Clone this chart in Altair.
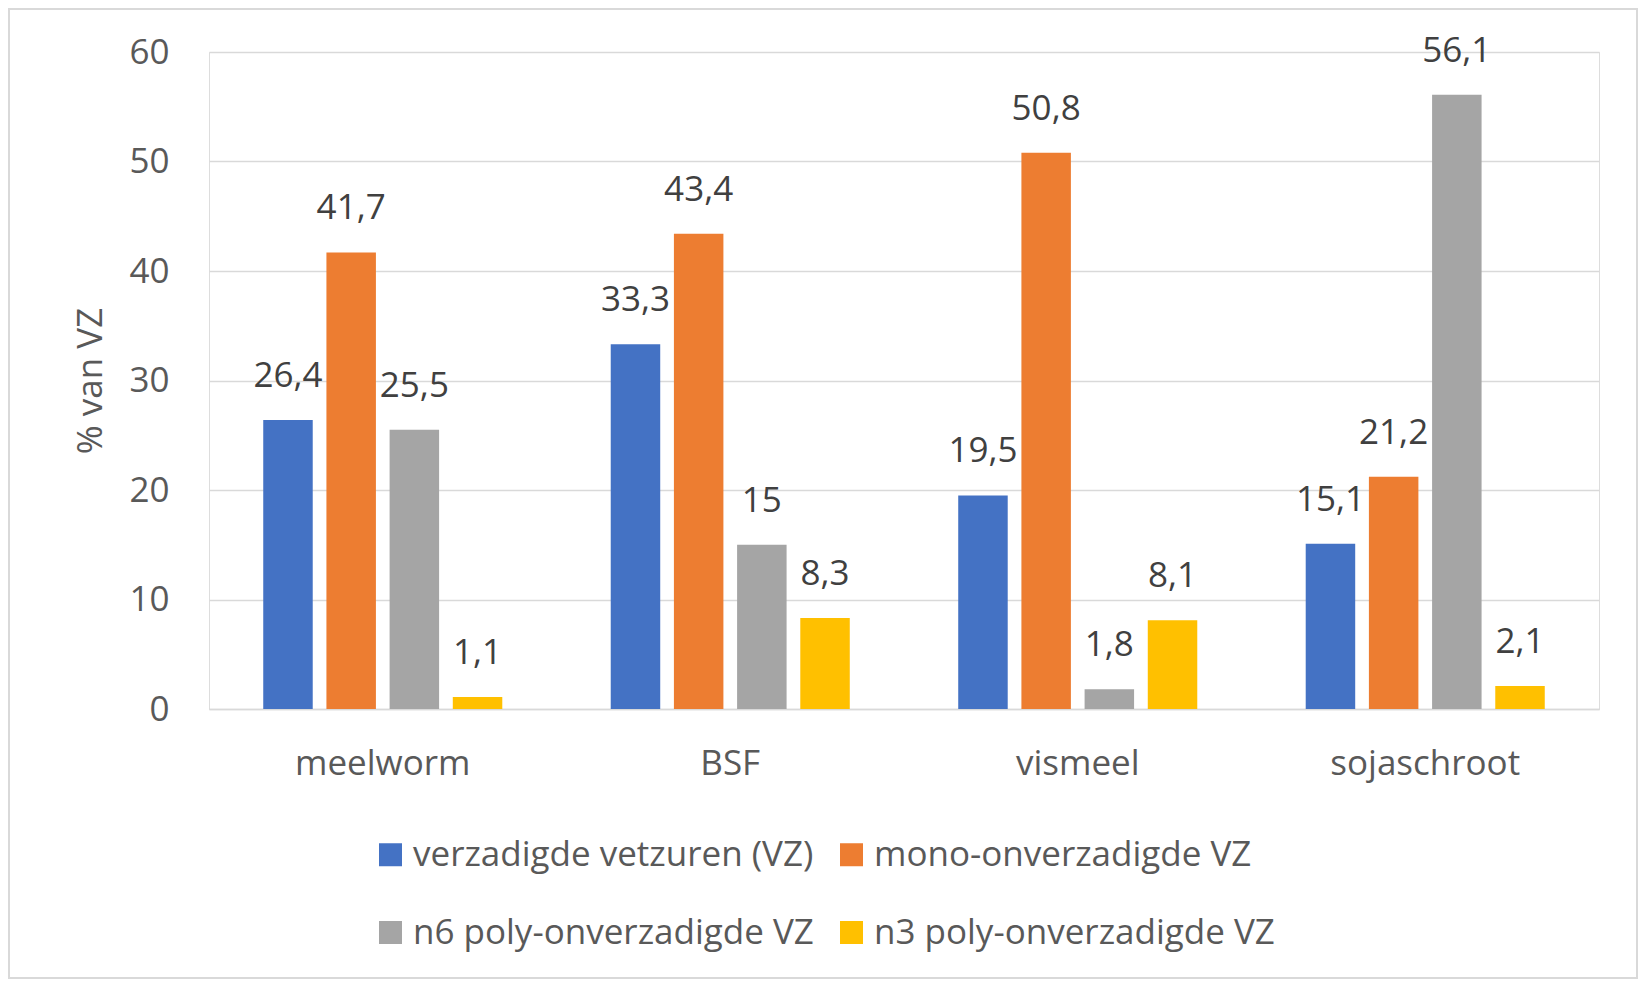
import altair as alt
import pandas as pd

categories = ["meelworm", "BSF", "vismeel", "sojaschroot"]
series = [
    "verzadigde vetzuren (VZ)",
    "mono-onverzadigde VZ",
    "n6 poly-onverzadigde VZ",
    "n3 poly-onverzadigde VZ",
]
colors = ["#4472C4", "#ED7D31", "#A5A5A5", "#FFC000"]

verzadigd = [26.4, 33.3, 19.5, 15.1]
mono = [41.7, 43.4, 50.8, 21.2]
n6 = [25.5, 15.0, 1.8, 56.1]
n3 = [1.1, 8.3, 8.1, 2.1]

y_ticks = [0, 10, 20, 30, 40, 50, 60]

rows = []
for s, vals in zip(series, [verzadigd, mono, n6, n3]):
    for c, v in zip(categories, vals):
        lab = ("%g" % v).replace(".", ",")
        rows.append({"cat": c, "series": s, "value": v, "label": lab})
df = pd.DataFrame(rows)

FONT = "Open Sans"
FS = 35
W, H = 1390, 657
PL, PT, PR, PB = 201, 44, 39, 270

x_enc = alt.X(
    "cat:N",
    sort=categories,
    title=None,
    scale=alt.Scale(paddingInner=0.2727, paddingOuter=0.1364),
    axis=alt.Axis(
        labelAngle=0,
        labelFont=FONT,
        labelFontSize=FS,
        labelColor="#595959",
        labelBaseline="alphabetic",
        labelPadding=65,
        labelLimit=1000,
        ticks=False,
        domainColor="#d9d9d9",
        domainWidth=1.5,
        grid=False,
    ),
)
xoff = alt.XOffset(
    "series:N",
    sort=series,
    scale=alt.Scale(paddingInner=0.2167, paddingOuter=0.1083),
)
y_enc = alt.Y(
    "value:Q",
    scale=alt.Scale(domain=[0, 60], nice=False),
    axis=alt.Axis(
        values=y_ticks,
        title="% van VZ",
        titleFont=FONT,
        titleFontSize=FS,
        titleFontWeight="normal",
        titleColor="#595959",
        titleX=-119,
        titleY=H / 2,
        titleAngle=270,
        titleAlign="center",
        titleBaseline="middle",
        labelFont=FONT,
        labelFontSize=FS,
        labelColor="#595959",
        labelPadding=40,
        ticks=False,
        domain=False,
        grid=True,
        gridColor="#d9d9d9",
        gridWidth=1.5,
    ),
)

bars = alt.Chart(df).mark_bar().encode(
    x=x_enc,
    xOffset=xoff,
    y=y_enc,
    color=alt.Color(
        "series:N",
        sort=series,
        scale=alt.Scale(domain=series, range=colors),
        legend=alt.Legend(
            title=None,
            orient="none",
            legendX=164,
            legendY=785,
            columns=2,
            direction="horizontal",
            symbolType="square",
            symbolSize=529,
            symbolStrokeWidth=0,
            labelFont=FONT,
            labelFontSize=FS,
            labelColor="#595959",
            labelOffset=5,
            labelLimit=1000,
            rowPadding=42,
            columnPadding=20,
            padding=0,
        ),
    ),
)

labels = alt.Chart(df).mark_text(
    baseline="alphabetic",
    dy=-33,
    font=FONT,
    fontSize=FS,
    color="#404040",
).encode(
    x=alt.X("cat:N", sort=categories),
    xOffset=alt.XOffset("series:N", sort=series),
    y=alt.Y("value:Q"),
    text="label:N",
)

frame = alt.Chart(pd.DataFrame({"f": [1]})).mark_rect(
    fillOpacity=0, stroke="#d9d9d9", strokeWidth=2
).encode(
    x=alt.value(-PL + 1),
    x2=alt.value(W + PR - 1),
    y=alt.value(-PT + 1),
    y2=alt.value(H + PB - 1),
)

chart = (
    alt.layer(frame, bars, labels)
    .properties(
        width=W,
        height=H,
        autosize=alt.AutoSizeParams(type="none"),
        padding={"left": PL, "top": PT, "right": PR, "bottom": PB},
    )
    .configure_view(stroke=None)
    .configure(background="white")
)

chart.save("out.html", embed_options={"renderer": "svg", "actions": False})
